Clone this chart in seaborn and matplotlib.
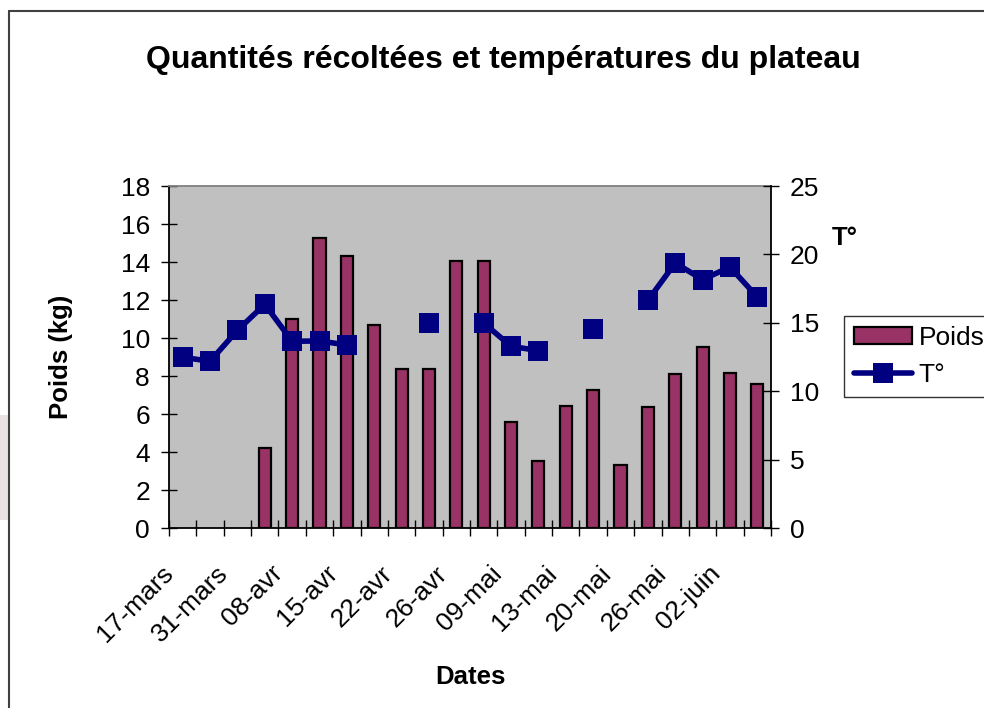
import numpy as np
import pandas as pd
import matplotlib
matplotlib.use("Agg")
import matplotlib.pyplot as plt
from matplotlib.lines import Line2D
from matplotlib.patches import Patch, Rectangle
import seaborn as sns

# one entry per harvest date (22 of them), only every other date is labelled
nan = np.nan
poids = [nan, nan, nan, 4.22, 10.98, 15.24, 14.3, 10.67, 8.35, 8.35, 14.05, 14.07,
         5.56, 3.53, 6.44, 7.26, 3.32, 6.35, 8.12, 9.53, 8.16, 7.56]
temp = [12.48, 12.19, 14.45, 16.35, 13.65, 13.67, 13.38, nan, nan, 14.99, nan, 14.99,
        13.28, 12.97, nan, 14.57, nan, 16.64, 19.37, 18.16, 19.08, 16.89]
tick_labels = ["17-mars", "31-mars", "08-avr", "15-avr", "22-avr", "26-avr",
               "09-mai", "13-mai", "20-mai", "26-mai", "02-juin"]

n = len(poids)
df = pd.DataFrame({"idx": range(n), "poids": poids, "temp": temp})
# readings next to each other are joined, a missing one breaks the line
df["seg"] = df["temp"].isna().cumsum()

sns.set_theme(style="white")
plt.rcParams["font.family"] = ["Liberation Sans", "DejaVu Sans"]
plt.rcParams["text.color"] = "black"
plt.rcParams["axes.labelcolor"] = "black"

fig = plt.figure(figsize=(9.84, 7.08), dpi=100)
ax = fig.add_axes([169/984, 1-528/708, 602/984, 342/708])
ax.set_facecolor("#c0c0c0")

sns.barplot(data=df, x="idx", y="poids", order=list(range(n)), color="#993366",
            width=0.44, edgecolor="black", linewidth=1.6, saturation=1,
            errorbar=None, ax=ax)

ax2 = ax.twinx()
sns.lineplot(data=df.dropna(subset=["temp"]), x="idx", y="temp", units="seg",
             estimator=None, color="#000080", lw=4, marker="s", markersize=15,
             markeredgewidth=0, legend=False, ax=ax2)

ax.set_xlim(-0.5, n - 0.5)
ax.set_ylim(0, 18)
ax2.set_ylim(0, 25)
ax.set_yticks(range(0, 19, 2))
ax2.set_yticks(range(0, 26, 5))
ax.set_xticks(np.arange(n + 1) - 0.5)
ax.set_xticklabels([])
# rotated labels end a little left of their category, like the Excel original
ax.set_xticks(np.arange(0, n, 2) - 0.47, minor=True)
ax.set_xticklabels(tick_labels, minor=True, rotation=45, ha="right", va="center",
                   rotation_mode="anchor")
ax.set_xlabel("")
ax.set_ylabel("")
ax2.set_xlabel("")
ax2.set_ylabel("")

ax.tick_params(axis="x", which="major", direction="inout", length=12, width=1,
               color="black", bottom=True)
ax.tick_params(axis="x", which="minor", length=0, pad=30, labelsize=19,
               labelcolor="black", bottom=True)
ax.tick_params(axis="y", direction="inout", length=11.5, width=1, pad=8,
               labelsize=19, color="black", labelcolor="black", left=True)
ax2.tick_params(axis="y", direction="inout", length=11.5, width=1, pad=8,
                labelsize=19, color="black", labelcolor="black", right=True)

for s in ["left", "bottom"]:
    ax.spines[s].set_color("black")
    ax.spines[s].set_linewidth(1.3)
ax.spines["top"].set_color("#808080")
ax.spines["top"].set_linewidth(1.3)
ax.spines["right"].set_visible(False)
for s in ["left", "bottom", "top"]:
    ax2.spines[s].set_visible(False)
ax2.spines["right"].set_color("black")
ax2.spines["right"].set_linewidth(1.3)

fig.text(503/984, 1-68/708, "Quantités récoltées et températures du plateau",
         ha="center", va="baseline", fontsize=23, fontweight="bold", color="black")
fig.text(61/984, 1-357/708, "Poids (kg)", rotation=90, ha="center", va="center",
         fontsize=18.5, fontweight="bold", color="black")
fig.text(470/984, 1-684/708, "Dates", ha="center", va="baseline",
         fontsize=18.5, fontweight="bold", color="black")
fig.text(832/984, 1-245/708, "T°", ha="left", va="baseline",
         fontsize=18.5, fontweight="bold", color="black")

handles = [Patch(facecolor="#993366", edgecolor="black", linewidth=1.6),
           Line2D([], [], color="#000080", lw=4, marker="s", markersize=15,
                  markeredgewidth=0)]
leg = fig.legend(handles, ["Poids", "T°"], loc="upper left",
                 bbox_to_anchor=(844/984, 1-316/708), borderaxespad=0,
                 fontsize=19, frameon=True, fancybox=False, shadow=False,
                 handlelength=2.2, handleheight=0.6, handletextpad=0.25,
                 borderpad=0.38, labelspacing=0.5)
leg.get_frame().set_edgecolor("black")
leg.get_frame().set_linewidth(1)

# chart frame and the faint mark at the left edge
fig.add_artist(Line2D([9/984, 9/984], [0, 1-11/708], color="#404040", lw=1.5,
                      transform=fig.transFigure))
fig.add_artist(Line2D([9/984, 1], [1-11/708, 1-11/708], color="#404040", lw=1.5,
                      transform=fig.transFigure))
fig.add_artist(Rectangle((0, 1-520/708), 8/984, 105/708, color="#ebe3e3",
                         transform=fig.transFigure, lw=0))

fig.savefig("out.png", dpi=100)
